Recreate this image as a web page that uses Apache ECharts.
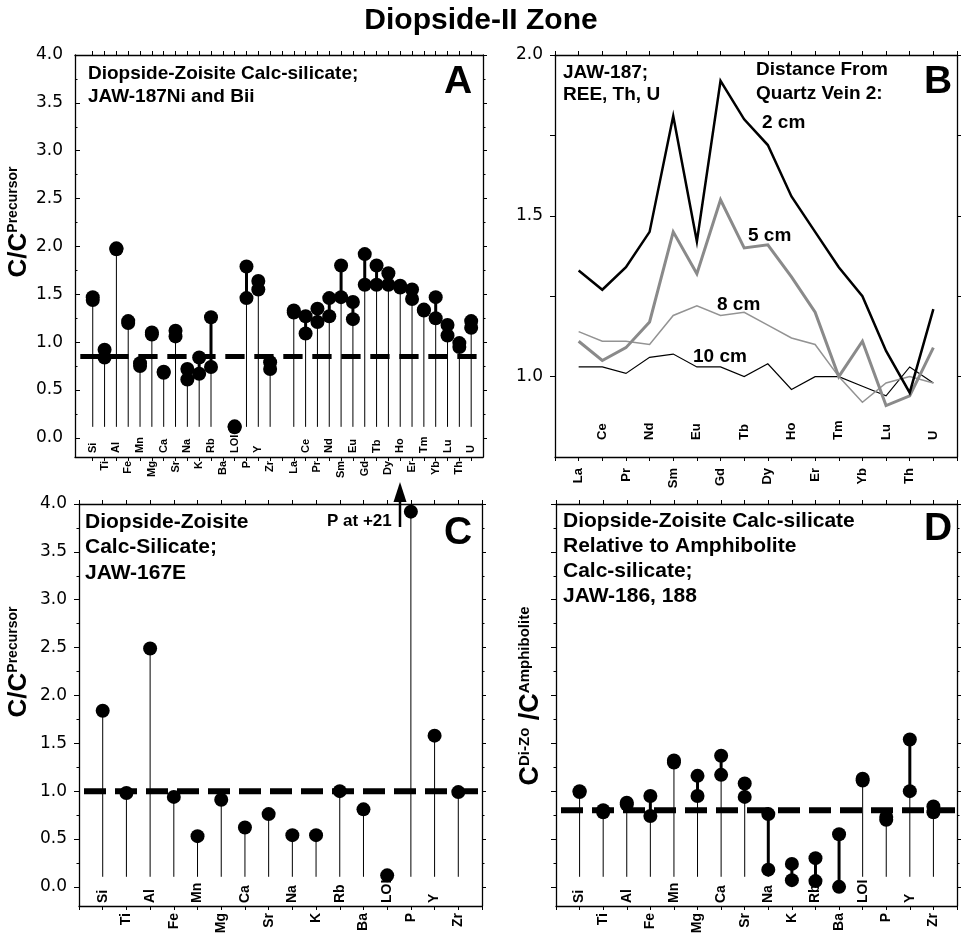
<!DOCTYPE html>
<html>
<head>
<meta charset="utf-8">
<script src="https://cdn.jsdelivr.net/npm/echarts@6/dist/echarts.min.js"></script>
<style>
  html, body { margin: 0; padding: 0; background: #fff; }
  #chart { width: 962px; height: 937px; }
</style>
</head>
<body>
<div id="chart"></div>
<script>
// ---- element lists ----
const majorEls = ['Si', 'Ti', 'Al', 'Fe', 'Mn', 'Mg', 'Ca', 'Sr', 'Na', 'K', 'Rb', 'Ba', 'LOI', 'P', 'Y', 'Zr'];
const reeEls = ['La', 'Ce', 'Pr', 'Nd', 'Sm', 'Eu', 'Gd', 'Tb', 'Dy', 'Ho', 'Er', 'Tm', 'Yb', 'Lu', 'Th', 'U'];
// panel A runs majors, one empty slot, then REE + Th, U
const aCats = majorEls.concat([''], reeEls);

// ---- Panel A: C / C(precursor), JAW-187Ni and JAW-187Bii ----
const aNi  = [1.47, 0.92, 1.98, 1.22, 0.78, 1.10, 0.69, 1.12, 0.72, 0.84, 1.26, null, 0.12, 1.79, 1.64, 0.79, null,
              1.33, 1.27, 1.35, 1.46, 1.80, 1.42, 1.92, 1.80, 1.72, 1.59, 1.55, 1.34, 1.47, 1.18, 0.99, 1.22];
const aBii = [1.44, 0.84, 1.97, 1.20, 0.75, 1.08, 0.68, 1.06, 0.61, 0.67, 0.74, null, 0.11, 1.46, 1.55, 0.72, null,
              1.31, 1.09, 1.21, 1.27, 1.47, 1.24, 1.60, 1.60, 1.60, 1.57, 1.45, 1.33, 1.25, 1.07, 0.95, 1.15];
const aRef = 0.85;

// ---- Panel B: JAW-187 REE, Th, U by distance from quartz vein 2 ----
const b2cm  = [1.33, 1.27, 1.34, 1.45, 1.81, 1.42, 1.92, 1.80, 1.72, 1.56, 1.45, 1.34, 1.25, 1.08, 0.95, 1.21];
const b5cm  = [1.11, 1.05, 1.09, 1.17, 1.45, 1.32, 1.55, 1.40, 1.41, 1.31, 1.20, 1.00, 1.11, 0.91, 0.94, 1.09];
const b8cm  = [1.14, 1.11, 1.11, 1.10, 1.19, 1.22, 1.19, 1.20, 1.16, 1.12, 1.10, 1.00, 0.92, 0.98, 1.00, 0.98];
const b10cm = [1.03, 1.03, 1.01, 1.06, 1.07, 1.03, 1.03, 1.00, 1.04, 0.96, 1.00, 1.00, 0.97, 0.94, 1.03, 0.98];

// ---- Panel C: JAW-167E, C / C(precursor) ----
const cVals = [1.84, 0.98, 2.49, 0.94, 0.53, 0.91, 0.62, 0.76, 0.54, 0.54, 1.00, 0.81, 0.12, 21, 1.58, 0.99];
const cRef = 1.0;

// ---- Panel D: Di-Zo calc-silicate relative to amphibolite calc-silicate ----
const d186 = [1.00, 0.80, 0.88, 0.95, 1.32, 1.16, 1.37, 1.08, 0.76, 0.24, 0.30, 0.55, 1.13, 0.73, 1.54, 0.84];
const d188 = [0.99, 0.78, 0.86, 0.74, 1.30, 0.95, 1.17, 0.94, 0.18, 0.07, 0.06, 0.00, 1.11, 0.70, 1.00, 0.78];
const dRef = 0.80;

// ---- y tick values ----
const ratioLabels = [0, 0.5, 1, 1.5, 2, 2.5, 3, 3.5, 4];
const ratioMinor  = [0.25, 0.75, 1.25, 1.75, 2.25, 2.75, 3.25, 3.75];
const reeLabels   = [1.0, 1.5, 2.0];
const reeTicks    = [1.0, 1.25, 1.5, 1.75, 2.0];

// ---- drawing settings ----
const BOLD = 'Liberation Sans, Arial, Helvetica, sans-serif';
const NUMFONT = 'DejaVu Sans, sans-serif';
const STEM_BASE_A = 0.115;
const STEM_BASE_CD = 0.105;
const C_TOP = 3.92;          // off-scale values are pinned here
const DOT = 14;

const range = (a, b) => { const r = []; for (let i = a; i <= b; i++) r.push(i); return r; };
const evens = n => range(0, n - 1).filter(i => i % 2 === 0);
const odds  = n => range(0, n - 1).filter(i => i % 2 === 1);

const axisLine = { show: true, onZero: false, lineStyle: { color: '#000', width: 1.3 } };
const noLine = { show: false, onZero: false };
const tickStyle = { color: '#000', width: 1 };

function xAxes(gridIndex, min, max, ticks, outer, inner, names, fontSize, outerMargin, innerMargin) {
  const label = v => names[Math.round(v)];
  const common = { gridIndex, type: 'value', min, max, splitLine: { show: false } };
  const lbl = { rotate: 90, fontSize, fontWeight: 'bold', fontFamily: BOLD, color: '#000', formatter: label };
  return [
    Object.assign({}, common, {
      position: 'bottom', axisLine,
      axisTick: { show: true, customValues: ticks, length: 4, lineStyle: tickStyle },
      axisLabel: Object.assign({}, lbl, { customValues: outer, margin: outerMargin })
    }),
    Object.assign({}, common, {
      position: 'bottom', axisLine: noLine, axisTick: { show: false },
      axisLabel: Object.assign({}, lbl, { customValues: inner, inside: true, margin: innerMargin })
    }),
    Object.assign({}, common, {
      position: 'top', axisLine,
      axisTick: { show: true, customValues: ticks, length: 4, lineStyle: tickStyle },
      axisLabel: { show: false }
    })
  ];
}

function yAxes(gridIndex, min, max, labels, major, minor, showLabels, leftInside) {
  const common = { gridIndex, type: 'value', min, max, splitLine: { show: false } };
  const hasMinor = minor.length > 0;
  return [
    Object.assign({}, common, {
      position: 'left', axisLine,
      axisTick: { show: true, customValues: major, length: 5, inside: leftInside, lineStyle: tickStyle },
      axisLabel: { show: showLabels, customValues: labels, formatter: v => v.toFixed(1), margin: 12,
                   fontSize: 17, fontFamily: NUMFONT, color: '#000' }
    }),
    Object.assign({}, common, {
      position: 'left', axisLine: noLine,
      axisTick: { show: hasMinor, customValues: hasMinor ? minor : [min], length: 2.5, inside: leftInside, lineStyle: tickStyle },
      axisLabel: { show: false }
    }),
    Object.assign({}, common, {
      position: 'right', axisLine,
      axisTick: { show: true, customValues: major, length: 4, lineStyle: tickStyle },
      axisLabel: { show: false }
    }),
    Object.assign({}, common, {
      position: 'right', axisLine: noLine,
      axisTick: { show: hasMinor, customValues: hasMinor ? minor : [min], length: 2.5, lineStyle: tickStyle },
      axisLabel: { show: false }
    })
  ];
}

// stems from a common base up to the higher value, thick bar joining the pair
function stems(xi, yi, base, v1, v2) {
  const data = [];
  v1.forEach((v, i) => { if (v != null) data.push([i, v, v2 ? v2[i] : v]); });
  return {
    type: 'custom', xAxisIndex: xi, yAxisIndex: yi, z: 2, silent: true, clip: false,
    encode: { x: 0, y: [1, 2] },
    data,
    renderItem(params, api) {
      const x = api.value(0), a = api.value(1), b = api.value(2);
      const hi = Math.max(a, b), lo = Math.min(a, b);
      const p0 = api.coord([x, base]), pH = api.coord([x, hi]), pL = api.coord([x, lo]);
      const kids = [];
      if (hi > base) kids.push({ type: 'line', shape: { x1: p0[0], y1: p0[1], x2: pH[0], y2: pH[1] },
                                 style: { stroke: '#000', lineWidth: 1 } });
      kids.push({ type: 'line', shape: { x1: pL[0], y1: pL[1], x2: pH[0], y2: pH[1] },
                  style: { stroke: '#000', lineWidth: 3 } });
      return { type: 'group', children: kids };
    }
  };
}

function dots(xi, yi, vals) {
  const data = [];
  vals.forEach((v, i) => { if (v != null) data.push([i, v]); });
  return { type: 'scatter', xAxisIndex: xi, yAxisIndex: yi, z: 4, symbol: 'circle', symbolSize: DOT,
           itemStyle: { color: '#000', opacity: 1 }, silent: true, data };
}

function refLine(xi, yi, x0, x1, y, dash, offset, width) {
  return { type: 'line', xAxisIndex: xi, yAxisIndex: yi, z: 3, symbol: 'none', silent: true,
           data: [[x0, y], [x1, y]],
           lineStyle: { color: '#000', width, type: dash, dashOffset: offset, cap: 'butt' } };
}

function reeLine(vals, color, width) {
  return { type: 'line', xAxisIndex: 3, yAxisIndex: 4, symbol: 'none', silent: true, z: 3,
           data: vals.map((v, i) => [i, v]),
           lineStyle: { color, width, join: 'miter', miterLimit: 10 } };
}

const cShown = cVals.map(v => Math.min(v, C_TOP));

const yTitleRich = (b, s) => ({
  b: { fontSize: b, lineHeight: b, fontWeight: 'bold', fontFamily: BOLD, fill: '#000' },
  s: { fontSize: s, lineHeight: s, fontWeight: 'bold', fontFamily: BOLD, fill: '#000', verticalAlign: 'top' }
});
const note = (x, y, text, size, lh) => ({ type: 'text', x, y,
  style: { text, fontSize: size, lineHeight: lh || size, fontWeight: 'bold', fontFamily: BOLD, fill: '#000' } });
const letter = (x, y, text) => ({ type: 'text', x, y,
  style: { text, align: 'center', verticalAlign: 'middle', fontSize: 39, fontWeight: 'bold', fontFamily: BOLD, fill: '#000' } });
const midNote = (x, y, text, size) => ({ type: 'text', x, y,
  style: { text, verticalAlign: 'middle', fontSize: size, fontWeight: 'bold', fontFamily: BOLD, fill: '#000' } });

const A_MIN = -1.5, A_MAX = 33;
const option = {
  animation: false,
  backgroundColor: '#fff',
  title: {
    text: 'Diopside-II Zone', left: 'center', top: 1,
    textStyle: { fontSize: 30, fontWeight: 'bold', fontFamily: BOLD, color: '#000' }
  },
  grid: [
    { left: 75,  top: 55,  width: 408, height: 402 },
    { left: 555, top: 55,  width: 402, height: 402 },
    { left: 79,  top: 504, width: 403, height: 402 },
    { left: 556, top: 504, width: 401, height: 402 }
  ],
  xAxis: [].concat(
    xAxes(0, A_MIN, A_MAX, range(0, 32), odds(33), evens(33).filter(i => i !== 16), aCats, 11, 4, 4),
    xAxes(1, -1, 16, range(-1, 16), evens(16), odds(16), reeEls, 13, 11, 17),
    xAxes(2, -1, 16, range(-1, 16), odds(16), evens(16), majorEls, 14, 7, 3),
    xAxes(3, -1, 16, range(-1, 16), odds(16), evens(16), majorEls, 14, 7, 3)
  ),
  yAxis: [].concat(
    yAxes(0, -0.2, 4, ratioLabels, ratioLabels, ratioMinor, true, true),
    yAxes(1, 0.75, 2, reeLabels, reeTicks, [], true, false),
    yAxes(2, -0.2, 4, ratioLabels, ratioLabels, ratioMinor, true, false),
    yAxes(3, -0.2, 4, ratioLabels, ratioLabels, ratioMinor, false, false)
  ),
  series: [
    // A
    stems(0, 0, STEM_BASE_A, aNi, aBii),
    refLine(0, 0, A_MIN, A_MAX, aRef, [19.3, 9.7], 23.7, 5),
    dots(0, 0, aNi),
    dots(0, 0, aBii),
    // B
    reeLine(b10cm, '#000', 1.2),
    reeLine(b8cm, '#939393', 1.5),
    reeLine(b5cm, '#8a8a8a', 3),
    reeLine(b2cm, '#000', 2.5),
    // C
    stems(6, 8, STEM_BASE_CD, cShown, null),
    refLine(6, 8, -1, 16, cRef, [22, 9], 26, 6),
    dots(6, 8, cShown),
    // D
    stems(9, 12, STEM_BASE_CD, d186, d188),
    refLine(9, 12, -1, 16, dRef, [22, 9], 26, 6),
    dots(9, 12, d186),
    dots(9, 12, d188)
  ],
  graphic: [
    // axis titles
    { type: 'text', x: 19, y: 222, rotation: Math.PI / 2,
      style: { text: '{b|C/C}{s|Precursor}', align: 'center', verticalAlign: 'middle', rich: yTitleRich(26, 14) } },
    { type: 'text', x: 19, y: 662, rotation: Math.PI / 2,
      style: { text: '{b|C/C}{s|Precursor}', align: 'center', verticalAlign: 'middle', rich: yTitleRich(26, 14) } },
    { type: 'text', x: 531, y: 696, rotation: Math.PI / 2,
      style: { text: '{b|C}{s|Di-Zo}{b| /C}{s|Amphibolite}', align: 'center', verticalAlign: 'middle', rich: yTitleRich(27, 15) } },

    // panel A notes
    note(88, 62, 'Diopside-Zoisite Calc-silicate;\nJAW-187Ni and Bii', 19, 23),
    letter(458, 82, 'A'),

    // panel B notes
    note(563, 62, 'JAW-187;\nREE, Th, U', 19, 22),
    note(756, 58, 'Distance From\nQuartz Vein 2:', 19, 24),
    letter(938, 82, 'B'),
    midNote(762, 123, '2 cm', 19),
    midNote(748, 236, '5 cm', 19),
    midNote(717, 305, '8 cm', 19),
    midNote(693, 357, '10 cm', 19),

    // panel C notes
    note(85, 509, 'Diopside-Zoisite\nCalc-Silicate;\nJAW-167E', 21, 25.8),
    letter(458, 533, 'C'),
    midNote(327, 521, 'P at +21', 17),
    { type: 'line', shape: { x1: 400, y1: 527, x2: 400, y2: 500 }, style: { stroke: '#000', lineWidth: 2.5 } },
    { type: 'polygon', shape: { points: [[393.5, 502], [406.5, 502], [400, 482]] }, style: { fill: '#000' } },

    // panel D notes
    note(563, 509, 'Diopside-Zoisite Calc-silicate\nRelative to Amphibolite\nCalc-silicate;\nJAW-186, 188', 21, 25),
    letter(938, 529, 'D')
  ]
};

const chart = echarts.init(document.getElementById('chart'), null, { renderer: 'canvas' });
chart.setOption(option);
</script>
</body>
</html>
